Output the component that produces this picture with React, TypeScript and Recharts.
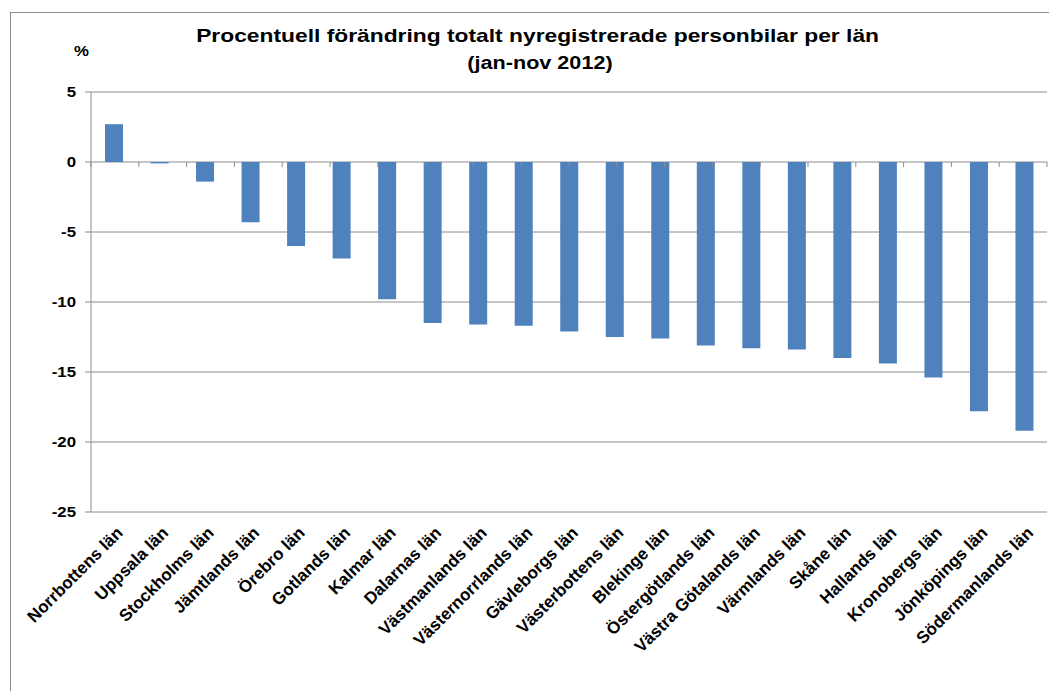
import React from 'react';
import { BarChart, Bar, XAxis, YAxis, CartesianGrid, ReferenceLine } from 'recharts';

const lan = [
  'Norrbottens län',
  'Uppsala län',
  'Stockholms län',
  'Jämtlands län',
  'Örebro län',
  'Gotlands län',
  'Kalmar län',
  'Dalarnas län',
  'Västmanlands län',
  'Västernorrlands län',
  'Gävleborgs län',
  'Västerbottens län',
  'Blekinge län',
  'Östergötlands län',
  'Västra Götalands län',
  'Värmlands län',
  'Skåne län',
  'Hallands län',
  'Kronobergs län',
  'Jönköpings län',
  'Södermanlands län',
];

const forandring = [
  2.7, -0.1, -1.4, -4.3, -6.0, -6.9, -9.8, -11.5, -11.6, -11.7, -12.1,
  -12.5, -12.6, -13.1, -13.3, -13.4, -14.0, -14.4, -15.4, -17.8, -19.2,
];

const yTicks = [5, 0, -5, -10, -15, -20, -25];

const data = lan.map((name, i) => ({ name, value: forandring[i] }));

const font = '"Liberation Sans", Arial, sans-serif';
const grey = '#8c8c8c';

function XTick({ x, y, payload }: any) {
  return (
    <g transform={`translate(${x + 10},${y + 14})`}>
      <text
        textAnchor="end"
        transform="rotate(-45)"
        fontSize={17}
        fontWeight="bold"
        fontFamily={font}
        fill="#000"
      >
        {payload.value}
      </text>
    </g>
  );
}

// the original picture is a bit wide, so the numbers are stretched
function YTick({ x, y, payload }: any) {
  return (
    <g transform={`translate(${x},${y}) scale(1.2,1)`}>
      <text dy={5} textAnchor="end" fontSize={14} fontWeight="bold" fontFamily={font} fill="#000">
        {payload.value}
      </text>
    </g>
  );
}

export default function App() {
  return (
    <div style={{ position: 'absolute', left: 0, top: 0, width: 1049, height: 691, background: '#fff', overflow: 'hidden', fontFamily: font }}>
      <div style={{ position: 'absolute', left: 10, top: 12, width: 1100, height: 700, borderLeft: `1px solid ${grey}`, borderTop: `1px solid ${grey}` }} />
      <div style={{ position: 'absolute', left: 0, top: 26, width: 1075, textAlign: 'center', fontSize: 19, lineHeight: '19px', fontWeight: 'bold', transform: 'scaleX(1.2)', transformOrigin: '537px 0' }}>
        Procentuell förändring totalt nyregistrerade personbilar per län
      </div>
      <div style={{ position: 'absolute', left: 0, top: 54, width: 1080, textAlign: 'center', fontSize: 18, lineHeight: '18px', fontWeight: 'bold', transform: 'scaleX(1.2)', transformOrigin: '540px 0' }}>
        (jan-nov 2012)
      </div>
      <div style={{ position: 'absolute', left: 74, top: 44, fontSize: 14, lineHeight: '14px', fontWeight: 'bold', transform: 'scaleX(1.2)', transformOrigin: '0 0' }}>%</div>
      <div style={{ position: 'absolute', left: 0, top: 0 }}>
        <BarChart width={1049} height={691} data={data} margin={{ top: 92, right: 2, left: 31, bottom: 0 }}>
          <CartesianGrid vertical={false} stroke={grey} strokeWidth={1} />
          <XAxis dataKey="name" height={179} interval={0} tick={<XTick />} tickLine={false} axisLine={false} />
          <XAxis xAxisId="b" type="number" domain={[0, 21]} hide allowDataOverflow />
          <YAxis
            width={60}
            domain={[-25, 5]}
            ticks={yTicks}
            interval={0}
            tick={<YTick />}
            tickSize={6}
            tickMargin={9}
            axisLine={{ stroke: grey }}
            tickLine={{ stroke: grey }}
          />
          {lan.concat(['']).map((_, i) => (
            <ReferenceLine
              key={i}
              xAxisId="b"
              segment={[{ x: i, y: 0 }, { x: i, y: -0.36 }]}
              stroke={grey}
            />
          ))}
          <Bar dataKey="value" fill="#4F81BD" barSize={18} isAnimationActive={false} />
        </BarChart>
      </div>
    </div>
  );
}
